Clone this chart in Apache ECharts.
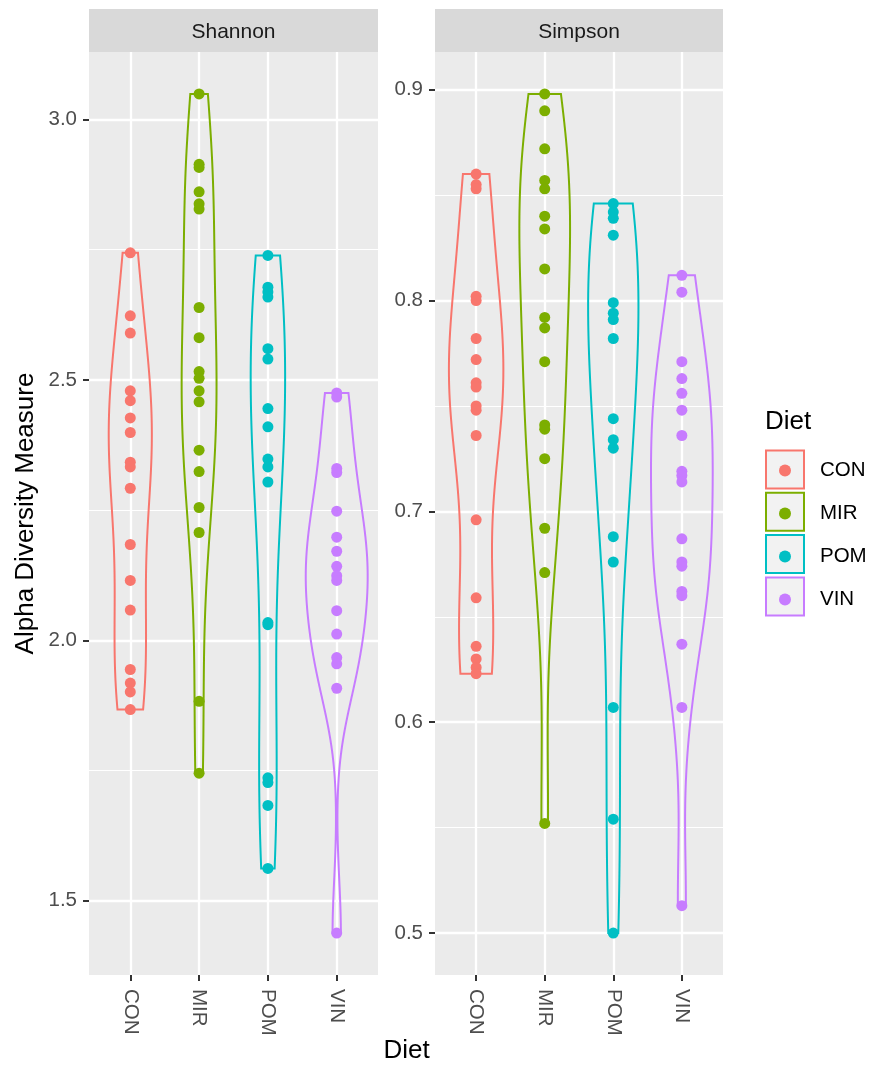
<!DOCTYPE html>
<html><head><meta charset="utf-8">
<script src="https://cdn.jsdelivr.net/npm/echarts@6/dist/echarts.min.js"></script>
<style>html,body{margin:0;padding:0;background:#fff}#c{width:873px;height:1068px}</style>
</head><body><div id="c"></div>
<script>
// ---------- data ----------
const categories = ['CON', 'MIR', 'POM', 'VIN'];
const panelNames = ['Shannon', 'Simpson'];
const colors = ['#F8766D', '#7CAE00', '#00BFC4', '#C77CFF'];

const shannonCON = [2.744, 2.623, 2.590, 2.479, 2.460, 2.427, 2.399, 2.342, 2.333, 2.292, 2.184, 2.115, 2.058, 1.944, 1.918, 1.901, 1.867];
const shannonMIR = [3.049, 2.914, 2.908, 2.861, 2.838, 2.828, 2.639, 2.581, 2.516, 2.503, 2.479, 2.458, 2.365, 2.324, 2.255, 2.207, 1.883, 1.745];
const shannonPOM = [2.739, 2.678, 2.669, 2.659, 2.560, 2.540, 2.445, 2.410, 2.348, 2.333, 2.304, 2.034, 2.030, 1.736, 1.727, 1.683, 1.562];
const shannonVIN = [2.475, 2.467, 2.330, 2.322, 2.248, 2.198, 2.171, 2.142, 2.124, 2.115, 2.057, 2.012, 1.967, 1.955, 1.908, 1.438];

const simpsonCON = [0.860, 0.855, 0.853, 0.802, 0.800, 0.782, 0.772, 0.761, 0.759, 0.750, 0.748, 0.736, 0.696, 0.659, 0.636, 0.630, 0.626, 0.623];
const simpsonMIR = [0.898, 0.890, 0.872, 0.857, 0.853, 0.840, 0.834, 0.815, 0.792, 0.787, 0.771, 0.741, 0.739, 0.725, 0.692, 0.671, 0.552];
const simpsonPOM = [0.846, 0.842, 0.839, 0.831, 0.799, 0.794, 0.791, 0.782, 0.744, 0.734, 0.730, 0.688, 0.676, 0.607, 0.554, 0.500];
const simpsonVIN = [0.812, 0.804, 0.771, 0.763, 0.756, 0.748, 0.736, 0.719, 0.717, 0.714, 0.687, 0.676, 0.674, 0.662, 0.660, 0.637, 0.607, 0.513];

const shannonTicks = [1.5, 2.0, 2.5, 3.0];
const shannonMinorTicks = [1.75, 2.25, 2.75];
const simpsonTicks = [0.5, 0.6, 0.7, 0.8, 0.9];
const simpsonMinorTicks = [0.55, 0.65, 0.75, 0.85];

const legendTitle = 'Diet';
const xTitle = 'Diet';
const yTitle = 'Alpha Diversity Measure';

// ---------- helpers ----------
const FONT = "'Liberation Sans', Arial, Helvetica, sans-serif";
function quantile7(s, p) {
  const h = (s.length - 1) * p, lo = Math.floor(h), hi = Math.min(lo + 1, s.length - 1);
  return s[lo] + (h - lo) * (s[hi] - s[lo]);
}
function bwNrd0(x) {
  const n = x.length;
  const mean = x.reduce((a, b) => a + b, 0) / n;
  const sd = Math.sqrt(x.reduce((a, b) => a + (b - mean) * (b - mean), 0) / (n - 1));
  const s = [...x].sort((a, b) => a - b);
  const iqr = quantile7(s, 0.75) - quantile7(s, 0.25);
  let lo = Math.min(sd, iqr / 1.34);
  if (!(lo > 0)) lo = sd || Math.abs(s[0]) || 1;
  return 0.9 * lo * Math.pow(n, -0.2);
}
function density(x) {
  const n = x.length, bw = bwNrd0(x);
  const mn = Math.min(...x), mx = Math.max(...x);
  const ys = [], d = [], N = 512;
  for (let k = 0; k < N; k++) {
    const y = mn + (mx - mn) * k / (N - 1);
    let s = 0;
    for (const xi of x) { const u = (y - xi) / bw; s += Math.exp(-0.5 * u * u); }
    ys.push(y); d.push(s / (n * bw * Math.sqrt(2 * Math.PI)));
  }
  return { ys, d };
}

const panels = [
  { name: panelNames[0], groups: [shannonCON, shannonMIR, shannonPOM, shannonVIN], ticks: shannonTicks, minor: shannonMinorTicks },
  { name: panelNames[1], groups: [simpsonCON, simpsonMIR, simpsonPOM, simpsonVIN], ticks: simpsonTicks, minor: simpsonMinorTicks }
];

const gridRects = [
  { left: 89, top: 52, width: 289, height: 923 },
  { left: 435, top: 52, width: 288, height: 923 }
];

const grids = [], xAxes = [], yAxes = [], series = [], graphics = [], titles = [];

panels.forEach((p, pi) => {
  const all = [].concat(...p.groups);
  const mn = Math.min(...all), mx = Math.max(...all);
  const pad = (mx - mn) * 0.05;
  const ymin = mn - pad, ymax = mx + pad;
  const profs = p.groups.map(density);
  const maxd = Math.max(...profs.map(pr => Math.max(...pr.d)));
  profs.forEach(pr => { pr.w = pr.d.map(v => 0.45 * v / maxd); });

  const gr = gridRects[pi];
  grids.push({ left: gr.left, top: gr.top, width: gr.width, height: gr.height, show: true, backgroundColor: '#EBEBEB', borderWidth: 0 });

  xAxes.push({
    type: 'value', gridIndex: pi, min: -0.6, max: 3.6, position: 'bottom',
    axisLine: { show: false, onZero: false },
    axisTick: { show: true, customValues: [0, 1, 2, 3], length: 6, lineStyle: { color: '#333333', width: 2 } },
    axisLabel: { show: true, customValues: [0, 1, 2, 3], rotate: -90, margin: 14,
      formatter: v => categories[Math.round(v)], fontFamily: FONT, fontSize: 20.5, color: '#4D4D4D' },
    splitLine: { show: true, lineStyle: { color: '#FFFFFF', width: 2.3 } }
  });

  yAxes.push({
    type: 'value', gridIndex: pi, min: ymin, max: ymax, position: 'left',
    axisLine: { show: false, onZero: false },
    axisTick: { show: true, customValues: p.ticks, length: 6, lineStyle: { color: '#333333', width: 2 } },
    axisLabel: { show: true, customValues: p.ticks, margin: 12, formatter: v => v.toFixed(1),
      fontFamily: FONT, fontSize: 20.5, color: '#4D4D4D' },
    splitLine: { show: true, lineStyle: { color: '#FFFFFF', width: 2.3 } },
    name: pi === 0 ? yTitle : '', nameLocation: 'middle', nameGap: 50,
    nameTextStyle: { fontFamily: FONT, fontSize: 26, color: '#000000' }
  });
  yAxes.push({
    type: 'value', gridIndex: pi, min: ymin, max: ymax, position: 'left',
    axisLine: { show: false, onZero: false },
    axisTick: { show: false, customValues: p.minor },
    axisLabel: { show: false, customValues: p.minor },
    splitLine: { show: true, lineStyle: { color: '#FFFFFF', width: 1.1 } }
  });

  p.groups.forEach((vals, gi) => {
    const pr = profs[gi];
    const color = colors[gi];
    series.push({
      type: 'custom', name: categories[gi], xAxisIndex: pi, yAxisIndex: pi * 2,
      data: [[gi, pr.ys[0]]], silent: true, z: 3, itemStyle: { color: color },
      renderItem: (params, api) => {
        const left = [], right = [];
        for (let k = 0; k < pr.ys.length; k++) {
          left.push(api.coord([gi - pr.w[k], pr.ys[k]]));
          right.push(api.coord([gi + pr.w[k], pr.ys[k]]));
        }
        const pts = left.concat(right.reverse());
        return { type: 'polygon', shape: { points: pts }, style: { fill: 'none', stroke: color, lineWidth: 2 } };
      }
    });
    series.push({
      type: 'scatter', name: categories[gi], xAxisIndex: pi, yAxisIndex: pi * 2,
      data: vals.map(v => [gi, v]), symbol: 'circle', symbolSize: 11,
      itemStyle: { color: color, opacity: 1 }, z: 4, silent: true
    });
  });

  // strip
  graphics.push({ type: 'rect', shape: { x: gr.left, y: 9, width: gr.width, height: 43 }, style: { fill: '#D9D9D9' }, z: 1 });
  titles.push({ text: p.name, left: gr.left + gr.width / 2, top: 22, textAlign: 'center', padding: 0,
    textStyle: { fontFamily: FONT, fontSize: 21, fontWeight: 'normal', color: '#1A1A1A' } });
});

// legend key boxes
categories.forEach((c, i) => {
  graphics.push({ type: 'rect', shape: { x: 766, y: 450.5 + i * 42.3, width: 38, height: 38 },
    style: { fill: '#F2F2F2', stroke: colors[i], lineWidth: 2 }, z: 1 });
});

titles.push({ text: xTitle, left: 406.5, top: 1038, textAlign: 'center', padding: 0,
  textStyle: { fontFamily: FONT, fontSize: 26, fontWeight: 'normal', color: '#000000' } });
titles.push({ text: legendTitle, left: 765, top: 409, padding: 0,
  textStyle: { fontFamily: FONT, fontSize: 26, fontWeight: 'normal', color: '#000000' } });

const option = {
  animation: false,
  backgroundColor: '#FFFFFF',
  title: titles,
  grid: grids,
  xAxis: xAxes,
  yAxis: yAxes,
  series: series,
  graphic: { elements: graphics },
  legend: {
    data: categories.map((c, i) => ({ name: c, itemStyle: { color: colors[i] } })),
    orient: 'vertical', left: 779, top: 460,
    icon: 'circle', itemWidth: 12, itemHeight: 12, itemGap: 22, padding: 0,
    selectedMode: false, z: 10,
    formatter: name => '{t|' + name + '}',
    textStyle: { fontFamily: FONT, fontSize: 20.5, color: '#000000',
      rich: { t: { fontFamily: FONT, fontSize: 20.5, color: '#000000', padding: [0, 0, 0, 24] } } }
  }
};

const chart = echarts.init(document.getElementById('c'), null, { renderer: 'canvas' });
chart.setOption(option);
</script>
</body></html>
